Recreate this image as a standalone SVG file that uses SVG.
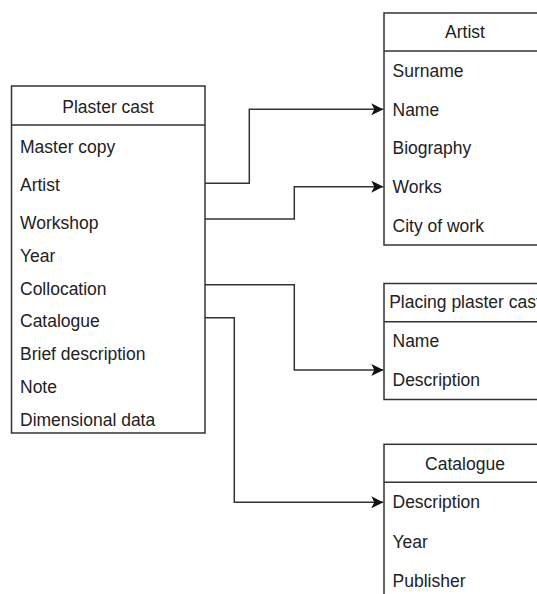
<svg xmlns="http://www.w3.org/2000/svg" width="537" height="594" viewBox="0 0 537 594">
  <defs>
    <marker id="arrow" viewBox="0 0 12 12" refX="12" refY="6" markerWidth="12" markerHeight="12" markerUnits="userSpaceOnUse" orient="auto">
      <path d="M0,0 L12,6 L0,12 L3,6 Z" fill="#111"/>
    </marker>
  </defs>
  <style>
    .box { fill: #fff; stroke: #333; stroke-width: 1.5; }
    .sep { stroke: #333; stroke-width: 1.5; }
    .hdr { font-family: "Liberation Sans", Arial, sans-serif; font-size: 17.5px; fill: #222; text-anchor: middle; }
    .row { font-family: "Liberation Sans", Arial, sans-serif; font-size: 17.5px; fill: #222; }
    .link { fill: none; stroke: #333; stroke-width: 1.5; marker-end: url(#arrow); }
  </style>
  <rect width="537" height="594" fill="#fff"/>

  <!-- Plaster cast table -->
  <g id="plaster-cast">
    <rect class="box" x="11.5" y="86" width="193.5" height="347"/>
    <line class="sep" x1="11.5" y1="125" x2="205" y2="125"/>
    <text class="hdr" x="108" y="113">Plaster cast</text>
    <text class="row" x="20" y="152.7">Master copy</text>
    <text class="row" x="20" y="190.7">Artist</text>
    <text class="row" x="20" y="229">Workshop</text>
    <text class="row" x="20" y="262">Year</text>
    <text class="row" x="20" y="295">Collocation</text>
    <text class="row" x="20" y="327">Catalogue</text>
    <text class="row" x="20" y="360">Brief description</text>
    <text class="row" x="20" y="392.7">Note</text>
    <text class="row" x="20" y="425.7">Dimensional data</text>
  </g>

  <!-- Artist table -->
  <g id="artist">
    <rect class="box" x="384" y="13" width="162" height="232"/>
    <line class="sep" x1="384" y1="51" x2="546" y2="51"/>
    <text class="hdr" x="465" y="38.3">Artist</text>
    <text class="row" x="392.5" y="76.7">Surname</text>
    <text class="row" x="392.5" y="115.7">Name</text>
    <text class="row" x="392.5" y="154">Biography</text>
    <text class="row" x="392.5" y="193.3">Works</text>
    <text class="row" x="392.5" y="232.3">City of work</text>
  </g>

  <!-- Placing plaster cast table -->
  <g id="placing">
    <rect class="box" x="384" y="283.5" width="162" height="116"/>
    <line class="sep" x1="384" y1="321.7" x2="546" y2="321.7"/>
    <text class="hdr" x="465" y="308.3">Placing plaster cast</text>
    <text class="row" x="392.5" y="347.3">Name</text>
    <text class="row" x="392.5" y="385.7">Description</text>
  </g>

  <!-- Catalogue table -->
  <g id="catalogue">
    <rect class="box" x="384" y="444.3" width="162" height="160"/>
    <line class="sep" x1="384" y1="482.3" x2="546" y2="482.3"/>
    <text class="hdr" x="465" y="470">Catalogue</text>
    <text class="row" x="392.5" y="508.3">Description</text>
    <text class="row" x="392.5" y="548.3">Year</text>
    <text class="row" x="392.5" y="586.7">Publisher</text>
  </g>

  <!-- Connectors -->
  <g id="connectors">
    <path class="link" d="M205,183.3 H249.3 V109.3 H383.3"/>
    <path class="link" d="M205,219 H294.3 V186.7 H383.3"/>
    <path class="link" d="M205,284.7 H294.3 V370 H383.3"/>
    <path class="link" d="M205,317.7 H234.3 V502.3 H383.3"/>
  </g>
</svg>
